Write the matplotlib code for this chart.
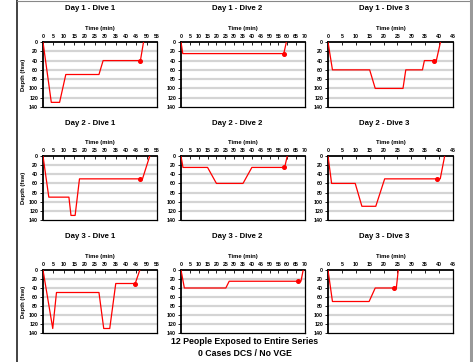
import matplotlib.pyplot as plt
from matplotlib.lines import Line2D

plt.rcParams['font.family'] = ['Liberation Sans', 'DejaVu Sans']

# dive profiles: time (min) and depth (fsw), plus marker point
TITLES = ['Day 1 - Dive 1', 'Day 1 - Dive 2', 'Day 1 - Dive 3',
          'Day 2 - Dive 1', 'Day 2 - Dive 2', 'Day 2 - Dive 3',
          'Day 3 - Dive 1', 'Day 3 - Dive 2', 'Day 3 - Dive 3']

d1_1_t = [0, 4, 8, 11, 27, 29, 47, 48.5]
d1_1_d = [0, 130, 130, 70, 70, 40, 40, 0]
d1_2_t = [0, 1, 58, 59.5]
d1_2_d = [0, 25, 25, 0]
d1_3_t = [0, 1.6, 15, 17, 27, 28, 34, 34.7, 39, 40.5]
d1_3_d = [0, 60, 60, 100, 100, 60, 60, 40, 40, 0]

d2_1_t = [0, 2.8, 12.5, 13.5, 15.5, 17.6, 48, 51.5]
d2_1_d = [0, 90, 90, 130, 130, 50, 50, 0]
d2_2_t = [0, 1.1, 15, 20, 35, 40, 58.5, 60]
d2_2_d = [0, 25, 25, 60, 60, 25, 25, 0]
d2_3_t = [0, 1.3, 9.8, 12.2, 17.2, 20.4, 40.4, 42]
d2_3_d = [0, 60, 60, 110, 110, 50, 50, 0]

d3_1_t = [0, 4.7, 6.5, 27, 29.3, 32.2, 35.1, 44.5, 46.7]
d3_1_d = [0, 130, 50, 50, 130, 130, 30, 30, 0]
d3_2_t = [0, 1.9, 25.3, 27.2, 67.7, 69]
d3_2_d = [0, 40, 40, 25, 25, 0]
d3_3_t = [0, 1.6, 14.8, 17, 24.6, 25.3]
d3_3_d = [0, 70, 70, 40, 40, 0]

MARK_T = [47, 58, 38, 47, 58.2, 39.3, 44.3, 66.3, 23.7]
MARK_D = [40, 25, 40, 50, 25, 50, 30, 25, 40]

XMAX = [55, 70, 45]
PROFILES = [(d1_1_t, d1_1_d), (d1_2_t, d1_2_d), (d1_3_t, d1_3_d),
            (d2_1_t, d2_1_d), (d2_2_t, d2_2_d), (d2_3_t, d2_3_d),
            (d3_1_t, d3_1_d), (d3_2_t, d3_2_d), (d3_3_t, d3_3_d)]

W, H = 473, 362
fig = plt.figure(figsize=(W / 100, H / 100), dpi=100)

# axes boxes in pixels: (left, right), (top, bottom)
cols = [(43, 157), (181, 305), (328, 453)]
rows = [(42, 107), (156, 220), (270, 333)]
title_dx = [-10, -6, -6]
title_y = [9, 123, 237]

for i, (t, d) in enumerate(PROFILES):
    r, c = divmod(i, 3)
    x0, x1 = cols[c]
    y0, y1 = rows[r]
    ax = fig.add_axes([x0 / W, 1 - y1 / H, (x1 - x0) / W, (y1 - y0) / H])
    ax.set_xlim(0, XMAX[c])
    ax.set_ylim(140, 0)
    ax.set_yticks(range(0, 141, 20))
    ax.set_xticks(range(0, XMAX[c] + 1, 5))
    for yy in range(20, 140, 20):
        ax.axhline(yy, color='#d4d4d4', lw=1.6, zorder=0)
    ax.plot(t, d, color='red', lw=0.9, zorder=3)
    ax.plot(MARK_T[i], MARK_D[i], 'o', color='red', ms=2.6, zorder=4)

    ax.xaxis.tick_top()
    ax.xaxis.set_label_position('top')
    ax.tick_params(axis='x', direction='in', length=2, width=0.6, pad=2,
                   labelsize=3.8)
    ax.tick_params(axis='y', direction='out', length=2, width=0.6, pad=1.5,
                   labelsize=3.8)
    for lab in ax.get_xticklabels() + ax.get_yticklabels():
        lab.set_fontweight('bold')
    ax.set_xlabel('Time (min)', fontsize=4.2, fontweight='bold', labelpad=3)
    if c == 0:
        ax.set_ylabel('Depth (fsw)', fontsize=4.2, fontweight='bold', labelpad=2)
    ax.spines['top'].set_linewidth(1.3)
    ax.spines['left'].set_linewidth(1.3)
    ax.spines['right'].set_linewidth(0.9)
    ax.spines['bottom'].set_linewidth(0.9)

    fig.text(((x0 + x1) / 2 + title_dx[c]) / W, 1 - title_y[r] / H, TITLES[i],
             ha='center', va='center', fontsize=5.6, fontweight='bold')

fig.text(245 / W, 1 - 342 / H, '12 People Exposed to Entire Series',
         ha='center', va='center', fontsize=6.3, fontweight='bold')
fig.text(245 / W, 1 - 353 / H, '0 Cases DCS / No VGE',
         ha='center', va='center', fontsize=6.3, fontweight='bold')

# page frame
fig.add_artist(Line2D([16.5 / W, 16.5 / W], [0, 1], color='#222222', lw=1.2))
fig.add_artist(Line2D([16.5 / W, 1], [1 - 0.5 / H, 1 - 0.5 / H], color='#888888', lw=0.8))
fig.add_artist(Line2D([470.5 / W, 470.5 / W], [0, 1], color='#999999', lw=2.2))

fig.savefig('out.png', dpi=100)
